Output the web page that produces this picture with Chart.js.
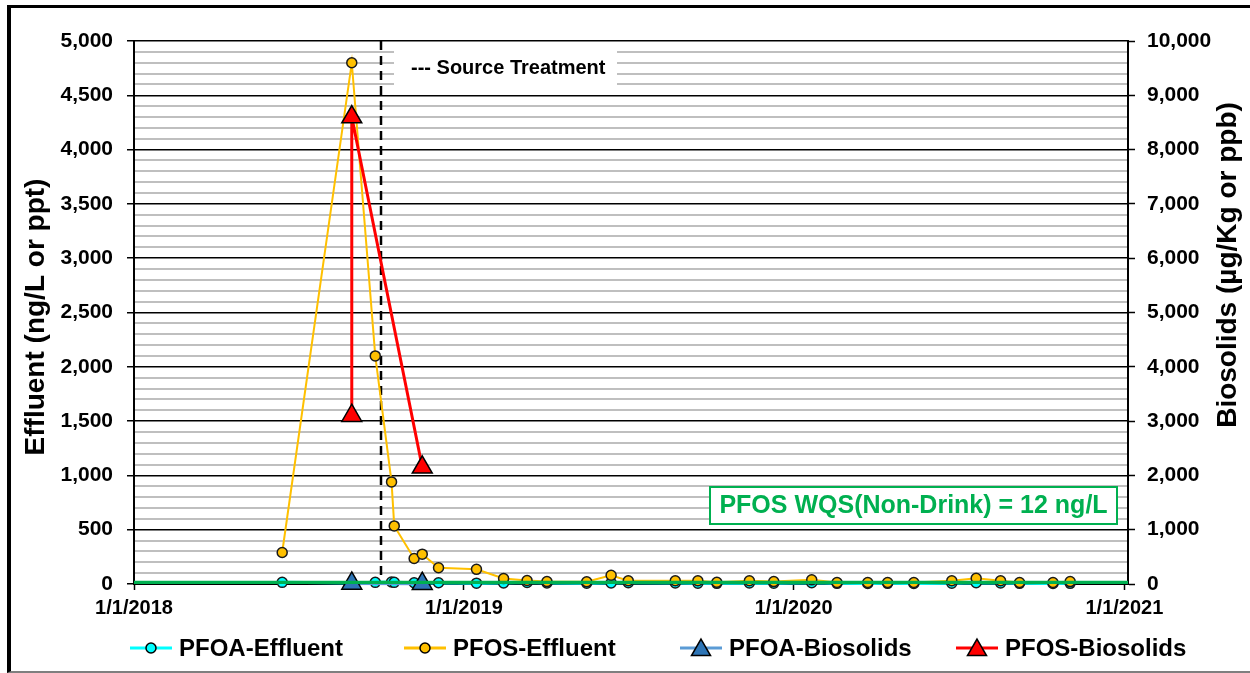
<!DOCTYPE html>
<html>
<head>
<meta charset="utf-8">
<title>PFOA / PFOS - Effluent and Biosolids</title>
<script src="https://cdn.jsdelivr.net/npm/chart.js@4.4.1/dist/chart.umd.min.js"></script>
<style>
  html, body { margin: 0; padding: 0; background: #fff; overflow: hidden; }
  #frame {
    position: absolute; left: 7px; top: 5px; width: 1260px; height: 668px;
    box-sizing: border-box;
    border-left: 4px solid #000; border-top: 3px solid #000; border-bottom: 2px solid #7f7f7f;
  }
  #wrap { position: absolute; left: 0; top: 0; width: 1250px; height: 673px; }
</style>
</head>
<body>
<div id="frame"></div>
<div id="wrap"><canvas id="chart" width="1250" height="673"></canvas></div>
<script>
// Sample dates (effluent) and results
const effluentDates = [
  '2018-06-14', '2018-08-30', '2018-09-25', '2018-10-13', '2018-10-16', '2018-11-07', '2018-11-16', '2018-12-04',
  '2019-01-15', '2019-02-14', '2019-03-12', '2019-04-03', '2019-05-17', '2019-06-13', '2019-07-02', '2019-08-23',
  '2019-09-17', '2019-10-08', '2019-11-13', '2019-12-10',
  '2020-01-21', '2020-02-18', '2020-03-23', '2020-04-14', '2020-05-13', '2020-06-24', '2020-07-21', '2020-08-17',
  '2020-09-07', '2020-10-14', '2020-11-02'
];
const pfoaEffluent = [15, 10, 15, 18, 15, 12, 10, 12, 8, 10, 14, 10, 8, 10, 12, 10, 8, 6, 10, 8, 12, 6, 5, 6, 5, 8, 12, 10, 6, 5, 6];
const pfosEffluent = [290, 4800, 2100, 940, 535, 235, 275, 150, 135, 50, 32, 22, 20, 80, 30, 30, 30, 16, 30, 22, 38, 14, 14, 14, 14, 30, 52, 30, 14, 14, 22];

// Biosolids (ug/Kg)
const pfoaBiosolidsDates = ['2018-08-30', '2018-11-16'];
const pfoaBiosolids = [10, 5];
const pfosBiosolidsDates = ['2018-08-30', '2018-08-30', '2018-11-16'];
const pfosBiosolids = [3100, 8600, 2150];

const sourceTreatmentDate = '2018-10-01';
const wqsLimit = 12;   // ng/L

const xTickDates = ['2018-01-01', '2019-01-01', '2020-01-01', '2021-01-01'];
const xTickLabels = ['1/1/2018', '1/1/2019', '1/1/2020', '1/1/2021'];
const xEndDate = '2021-01-05';

const FONT = "'Liberation Sans', Arial, sans-serif";
const BASE = Date.UTC(2018, 0, 1);

function dayOf(s) {
  const p = s.split('-').map(Number);
  return (Date.UTC(p[0], p[1] - 1, p[2]) - BASE) / 86400000;
}
function series(dates, vals) {
  return dates.map((d, i) => ({ x: dayOf(d), y: vals[i] }));
}

const xTickValues = xTickDates.map(dayOf);

// dashed "Source Treatment" marker + WQS note box
const notes = {
  id: 'notes',
  beforeDatasetsDraw(chart) {
    const { ctx, chartArea, scales } = chart;
    const lx = Math.round(scales.x.getPixelForValue(dayOf(sourceTreatmentDate)));
    ctx.save();
    // label box
    ctx.fillStyle = '#fff';
    ctx.fillRect(lx + 13, chartArea.top + 3, 223, 46);
    ctx.fillStyle = '#000';
    ctx.font = 'bold 20px ' + FONT;
    ctx.textBaseline = 'middle';
    ctx.fillText('--- Source Treatment', lx + 30, chartArea.top + 27);
    // vertical dashed line
    ctx.strokeStyle = '#000';
    ctx.lineWidth = 2.5;
    ctx.setLineDash([9, 6]);
    ctx.beginPath();
    ctx.moveTo(lx, chartArea.top);
    ctx.lineTo(lx, chartArea.bottom);
    ctx.stroke();
    ctx.setLineDash([]);

    // WQS box
    const bx = chartArea.right - 418, by = 487, bw = 407, bh = 37;
    ctx.fillStyle = '#fff';
    ctx.fillRect(bx, by, bw, bh);
    ctx.strokeStyle = '#00B050';
    ctx.lineWidth = 2;
    ctx.strokeRect(bx, by, bw, bh);
    ctx.fillStyle = '#00B050';
    ctx.font = 'bold 25px ' + FONT;
    ctx.textAlign = 'center';
    ctx.fillText('PFOS WQS(Non-Drink) = ' + wqsLimit + ' ng/L', bx + bw / 2, by + bh / 2 + 1);
    ctx.restore();
  }
};

function marker(ctx, style, x, y, r, fill) {
  ctx.beginPath();
  if (style === 'triangle') {
    ctx.moveTo(x, y - r);
    ctx.lineTo(x + r * 0.866, y + r / 2);
    ctx.lineTo(x - r * 0.866, y + r / 2);
    ctx.closePath();
  } else {
    ctx.arc(x, y, r, 0, Math.PI * 2);
  }
  ctx.fillStyle = fill;
  ctx.fill();
  ctx.lineWidth = 1.5;
  ctx.strokeStyle = '#000';
  ctx.stroke();
}

// axis titles and the legend row
const frameText = {
  id: 'frameText',
  afterDraw(chart) {
    const ctx = chart.ctx;
    ctx.save();
    ctx.fillStyle = '#000';
    ctx.font = 'bold 28px ' + FONT;
    ctx.textAlign = 'center';
    ctx.textBaseline = 'middle';
    ctx.translate(36, 317);
    ctx.rotate(-Math.PI / 2);
    ctx.fillText('Effluent (ng/L or ppt)', 0, 0);
    ctx.restore();

    ctx.save();
    ctx.fillStyle = '#000';
    ctx.font = 'bold 28px ' + FONT;
    ctx.textAlign = 'center';
    ctx.textBaseline = 'middle';
    ctx.translate(1228, 265);
    ctx.rotate(-Math.PI / 2);
    ctx.fillText('Biosolids (\u00b5g/Kg or ppb)', 0, 0);
    ctx.restore();

    // legend
    const starts = [130, 404, 680, 956];
    const ly = 648;
    ctx.save();
    ctx.font = 'bold 24px ' + FONT;
    ctx.textBaseline = 'middle';
    let k = 0;
    chart.data.datasets.forEach(ds => {
      if (ds.inLegend === false) return;
      const x0 = starts[k++];
      ctx.strokeStyle = ds.borderColor;
      ctx.lineWidth = 3;
      ctx.beginPath();
      ctx.moveTo(x0, ly);
      ctx.lineTo(x0 + 42, ly);
      ctx.stroke();
      const tri = ds.pointStyle === 'triangle';
      marker(ctx, ds.pointStyle, x0 + 21, tri ? ly + 2 : ly, tri ? 11 : 5, ds.pointBackgroundColor);
      ctx.fillStyle = '#000';
      ctx.fillText(ds.label, x0 + 49, ly + 1);
    });
    ctx.restore();
  }
};

new Chart(document.getElementById('chart'), {
  type: 'line',
  data: {
    datasets: [
      {
        label: 'PFOA-Effluent',
        data: series(effluentDates, pfoaEffluent),
        yAxisID: 'y',
        borderColor: '#00FFFF',
        borderWidth: 3,
        pointBackgroundColor: '#00FFFF',
        pointBorderColor: '#1a1a1a',
        pointBorderWidth: 1.5,
        pointRadius: 5,
        pointStyle: 'circle',
        order: 5,
        clip: false
      },
      {
        label: 'PFOS-Effluent',
        data: series(effluentDates, pfosEffluent),
        yAxisID: 'y',
        borderColor: '#FFC000',
        borderWidth: 2,
        pointBackgroundColor: '#FFC000',
        pointBorderColor: '#1a1a1a',
        pointBorderWidth: 1.5,
        pointRadius: 5,
        pointStyle: 'circle',
        order: 4,
        clip: false
      },
      {
        label: 'PFOA-Biosolids',
        data: series(pfoaBiosolidsDates, pfoaBiosolids),
        yAxisID: 'y2',
        borderColor: '#5B9BD5',
        borderWidth: 3,
        pointBackgroundColor: '#2E75B6',
        pointBorderColor: '#000',
        pointBorderWidth: 1.5,
        pointRadius: 11.5,
        pointStyle: 'triangle',
        order: 3,
        clip: false
      },
      {
        label: 'PFOS-Biosolids',
        data: series(pfosBiosolidsDates, pfosBiosolids),
        yAxisID: 'y2',
        borderColor: '#FF0000',
        borderWidth: 3,
        pointBackgroundColor: '#FF0000',
        pointBorderColor: '#000',
        pointBorderWidth: 1.5,
        pointRadius: 11.5,
        pointStyle: 'triangle',
        order: 2,
        clip: false
      },
      {
        label: 'PFOS WQS',
        inLegend: false,
        data: [{ x: 0, y: wqsLimit }, { x: dayOf(xEndDate), y: wqsLimit }],
        yAxisID: 'y',
        borderColor: '#00B050',
        borderWidth: 4,
        pointRadius: 0,
        order: 1
      }
    ]
  },
  options: {
    responsive: false,
    animation: false,
    devicePixelRatio: 1,
    layout: { padding: { left: 12, right: 0, top: 41, bottom: 0 } },
    plugins: {
      legend: { display: false },
      tooltip: { enabled: false }
    },
    elements: { line: { tension: 0 } },
    scales: {
      x: {
        type: 'linear',
        min: 0,
        max: dayOf(xEndDate),
        afterBuildTicks: scale => { scale.ticks = xTickValues.map(v => ({ value: v })); },
        afterFit: scale => { scale.height = 89; },
        ticks: {
          autoSkip: false,
          maxRotation: 0,
          padding: 6,
          color: '#000',
          font: { family: FONT, size: 20, weight: 'bold' },
          callback: v => xTickLabels[xTickValues.indexOf(v)]
        },
        grid: { drawOnChartArea: false, tickLength: 6, tickColor: '#000', tickWidth: 1.5 },
        border: { color: '#000', width: 2 }
      },
      y: {
        position: 'left',
        min: 0,
        max: 5000,
        afterFit: scale => { scale.width = 122; },
        ticks: {
          stepSize: 100,
          maxTicksLimit: 100,
          autoSkip: false,
          padding: 14,
          color: '#000',
          font: { family: FONT, size: 21, weight: 'bold' },
          callback: v => (v % 500 === 0 ? v.toLocaleString('en-US') : '')
        },
        grid: {
          color: c => (c.tick.value % 500 === 0 ? '#000' : '#BFBFBF'),
          lineWidth: c => (c.tick.value % 500 === 0 ? 1.5 : 2),
          tickColor: c => (c.tick.value % 500 === 0 ? '#000' : 'rgba(0,0,0,0)'),
          tickLength: 7,
          tickWidth: 1.5
        },
        border: { color: '#000', width: 2 }
      },
      y2: {
        position: 'right',
        min: 0,
        max: 10000,
        afterFit: scale => { scale.width = 122; },
        ticks: {
          stepSize: 1000,
          padding: 12,
          color: '#000',
          font: { family: FONT, size: 21, weight: 'bold' },
          callback: v => v.toLocaleString('en-US')
        },
        grid: { drawOnChartArea: false, tickLength: 7, tickColor: '#000', tickWidth: 1.5 },
        border: { color: '#000', width: 2 }
      }
    }
  },
  plugins: [notes, frameText]
});
</script>
</body>
</html>
